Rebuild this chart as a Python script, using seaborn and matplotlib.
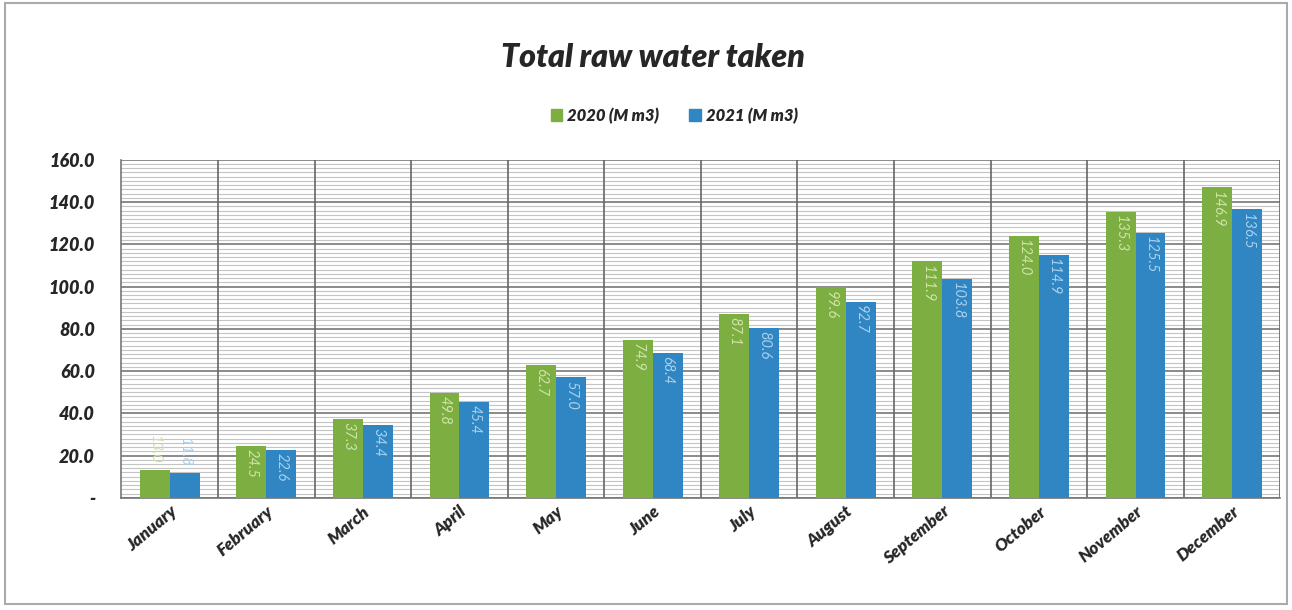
import matplotlib
matplotlib.use('Agg')
import matplotlib.pyplot as plt
import seaborn as sns
import pandas as pd
import numpy as np
from matplotlib.ticker import MultipleLocator, FixedLocator, FuncFormatter
from matplotlib.patches import Rectangle

months = ['January', 'February', 'March', 'April', 'May', 'June', 'July',
          'August', 'September', 'October', 'November', 'December']
vals_2020 = [13.0, 24.5, 37.3, 49.8, 62.7, 74.9, 87.1, 99.6, 111.9, 124.0, 135.3, 146.9]
vals_2021 = [11.8, 22.6, 34.4, 45.4, 57.0, 68.4, 80.6, 92.7, 103.8, 114.9, 125.5, 136.5]
series = ['2020 (M m3)', '2021 (M m3)']

df = pd.DataFrame({
    'month': months * 2,
    'value': vals_2020 + vals_2021,
    'series': [series[0]] * 12 + [series[1]] * 12,
})

sns.set_style('white')
plt.rcParams['font.family'] = ['Lato', 'DejaVu Sans']

green = '#7cae42'
blue = '#2f86c2'
lab_colors = ['#cfe3a8', '#a9d0ee']

fig = plt.figure(figsize=(12.92, 6.10), dpi=100)
ax = fig.add_axes([0.094, 0.184, 0.897, 0.554])

sns.barplot(data=df, x='month', y='value', hue='series', order=months,
            palette=[green, blue], width=0.62, gap=0, saturation=1,
            linewidth=0, ax=ax, zorder=3)

ax.set_ylim(0, 160)
ax.set_xlim(-0.5, 11.5)

# grid
ax.yaxis.set_major_locator(MultipleLocator(20))
ax.yaxis.set_minor_locator(MultipleLocator(2))
ax.grid(which='minor', axis='y', color='#c4c4c4', lw=0.8, zorder=0)
ax.grid(which='major', axis='y', color='#777777', lw=1.2, zorder=0)
ax.xaxis.set_minor_locator(FixedLocator(np.arange(-0.5, 12, 1)))
ax.vlines(np.arange(0.5, 12, 1), 0, 160, color='#666666', lw=1.2, zorder=1)
ax.set_axisbelow(True)

for s in ['top', 'right']:
    ax.spines[s].set_visible(False)
for s in ['left', 'bottom']:
    ax.spines[s].set_color('#777777')
    ax.spines[s].set_linewidth(1.2)

ax.yaxis.set_major_formatter(FuncFormatter(lambda v, p: '-' if v == 0 else f'{v:.1f}'))
ax.tick_params(axis='y', which='major', length=5, color='#777777', labelsize=13, pad=14)
ax.tick_params(axis='y', which='minor', length=2, color='#999999')
ax.tick_params(axis='x', which='major', length=0, labelsize=12.5, pad=4)
ax.tick_params(axis='x', which='minor', length=5, color='#777777')
for t in ax.get_yticklabels():
    t.set_fontweight('heavy')
    t.set_fontstyle('italic')
ax.set_xticks(range(12))
ax.set_xticklabels(months, rotation=40, ha='right', rotation_mode='anchor',
                   fontweight='heavy', fontstyle='italic')
ax.set_xlabel('')
ax.set_ylabel('')

# value labels
for cont, col in zip(ax.containers, lab_colors):
    for bar in cont:
        h = bar.get_height()
        x = bar.get_x() + bar.get_width() / 2
        if h < 20:
            ax.text(x, h + 3, f'{h:.1f}', rotation=270, ha='center', va='bottom',
                    color=col, fontsize=10.5, fontstyle='italic', zorder=4)
        else:
            ax.text(x, h - 1.5, f'{h:.1f}', rotation=270, ha='center', va='top',
                    color=col, fontsize=10.5, fontstyle='italic', zorder=4)

ax.legend_.remove()
handles = [Rectangle((0, 0), 1, 1, color=green), Rectangle((0, 0), 1, 1, color=blue)]
fig.legend(handles, series, loc='center', bbox_to_anchor=(0.522, 0.81), ncol=2,
           frameon=False, handlelength=0.7, handleheight=0.7, handletextpad=0.3,
           columnspacing=1.8, prop={'weight': 'heavy', 'style': 'italic', 'size': 12})

fig.text(0.505, 0.905, 'Total raw water taken', ha='center', va='center',
         fontsize=23, fontweight='heavy', fontstyle='italic')

fig.patches.append(Rectangle((0.004, 0.01), 0.992, 0.985, transform=fig.transFigure,
                             fill=False, edgecolor='#aaaaaa', lw=1.5))

fig.savefig('out.png', dpi=100)
